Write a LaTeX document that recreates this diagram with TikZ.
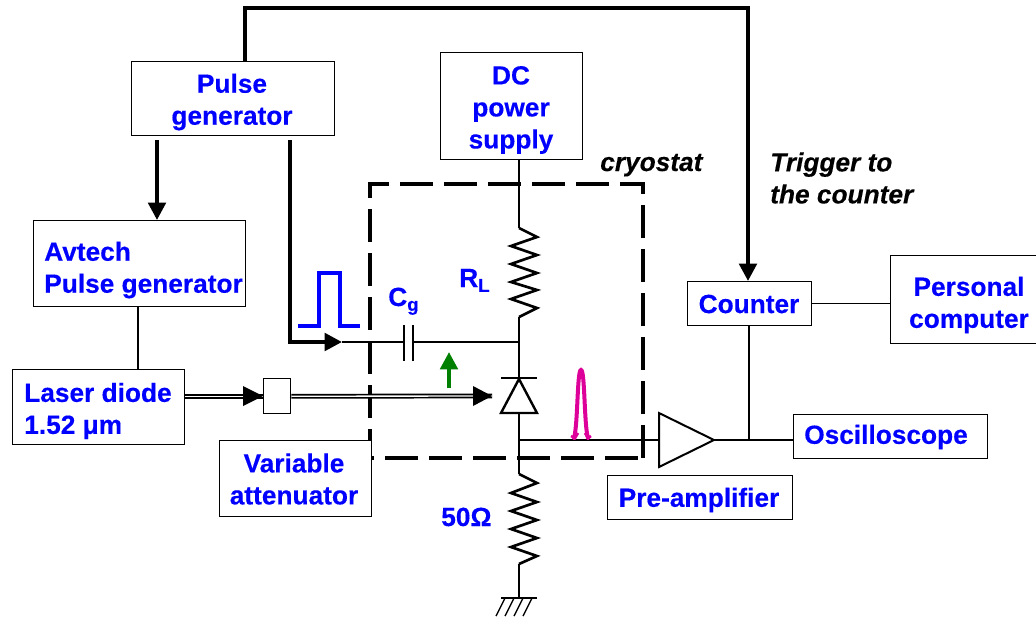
\documentclass[tikz,border=0pt]{standalone}
\usepackage{fontspec}
\setmainfont{Liberation Sans}[BoldFeatures={FakeBold=0.3},BoldItalicFeatures={FakeBold=0.3}]
\usetikzlibrary{arrows.meta}
\definecolor{lblue}{RGB}{0,0,255}
\definecolor{lgreen}{RGB}{0,128,0}
\definecolor{lmag}{RGB}{221,0,153}
\tikzset{
  wire/.style={line width=1pt,black},
  zig/.style={line width=2pt,black,line join=miter},
  thickwire/.style={line width=3pt,black,line join=miter},
  tip/.style={-{Triangle[length=13pt,width=13pt]}},
  dbl/.style={line width=1.3pt,black,double=white,double distance=1pt},
  boxn/.style={draw=black,line width=1.1pt,fill=white,inner sep=0pt,anchor=north west},
  lab/.style={text=lblue,font=\fontsize{19.7}{24}\selectfont\bfseries,inner sep=0pt,align=center},
  labl/.style={lab,align=left},
  blk/.style={text=black,font=\fontsize{19.7}{24}\selectfont\bfseries\itshape,inner sep=0pt,align=left},
}
\newcommand{\boxat}[5]{\node[boxn,minimum width=#4*0.75pt,minimum height=#5*0.75pt] (#1) at (#2,#3) {};}
\begin{document}
\begin{tikzpicture}[x=0.75pt,y=-0.75pt]
\useasboundingbox (0,0) rectangle (1036,619);
% coordinates
\coordinate (topl) at (245,8);
\coordinate (topr) at (748,8);
\coordinate (pgbend) at (290,342);
\coordinate (capin) at (342,342);
\coordinate (capl) at (404,342);
\coordinate (capr) at (413,342);
\coordinate (jc) at (519,342);
\coordinate (rlt) at (519,228);
\coordinate (rlb) at (519,317);
\coordinate (dtop) at (519,379);
\coordinate (dbot) at (519,413);
\coordinate (jo) at (519,440);
\coordinate (r2t) at (519,474);
\coordinate (r2b) at (519,564);
\coordinate (gnd) at (519,598);
\coordinate (ampin) at (659,440);
\coordinate (ampout) at (714,440);
\coordinate (jout) at (749,440);
\coordinate (ditip) at (492,396);
\coordinate (ava) at (157,140);
\coordinate (pgb) at (290,140);
% cryostat
\draw[line width=3.4pt,dash pattern=on 24.75pt off 8.25pt] (643,458) -- (643,184) -- (370,184) -- (370,458) -- cycle;
% boxes
\boxat{pg}{131}{61}{203}{74}
\boxat{dc}{440}{52}{142}{107}
\boxat{av}{33}{220}{212}{86}
\boxat{ld}{12}{369}{172}{75}
\boxat{sb}{263}{378}{27}{35}
\boxat{va}{219}{440}{152}{76}
\boxat{co}{687}{281}{124}{44}
\boxat{pc}{890}{255}{145.5}{88}
\boxat{os}{793}{414}{194}{44}
\boxat{pa}{607}{475}{185}{44}
% thick connectors
\draw[thickwire,tip] (pg.north -| topl) -- (topl) -- (topr) -- (co.north -| topr);
\draw[thickwire,tip] (ava) -- (av.north -| ava);
\draw[thickwire,tip] (pgb) -- (pgbend) -- (capin);
% thin wires
\draw[wire] (capin) -- (capl);
\draw[wire] (capr) -- (jc);
\draw[wire] (dc.south -| rlt) -- (rlt);
\draw[zig] (rlt) -- (537,237) -- (511,246) -- (537,255) -- (511,264) -- (537,273) -- (511,282) -- (537,290) -- (511,299) -- (537,308) -- (rlb);
\draw[wire] (rlb) -- (dtop);
\draw[wire] (dbot) -- (r2t);
\draw[zig] (r2t) -- (537,483) -- (511,493) -- (537,502) -- (511,511) -- (537,520) -- (511,529) -- (537,538) -- (511,547) -- (537,556) -- (r2b);
\draw[wire] (r2b) -- (gnd);
\draw[wire] (jo) -- (ampin);
\draw[wire] (ampout) -- (os.west |- ampout);
\draw[wire] (co.south -| jout) -- (jout);
\draw[wire] (co.east) -- (pc.west |- co.east);
\draw[wire] (av.south -| 138,0) -- (ld.north -| 138,0);
% capacitor
\draw[line width=1.4pt] (404,325) -- (404,361) (413,325) -- (413,361);
% diode
\draw[line width=1.8pt,fill=white,line join=miter] (dtop) -- (537,413) -- (501,413) -- cycle;
\draw[line width=2.2pt] (501,378) -- (537,378);
% ground
\draw[line width=1pt] (501,598) -- (537,598);
\draw[line width=1pt] (505,598) -- (496,616) (514,598) -- (505,616) (523,598) -- (514,616) (532,598) -- (523,616);
% fibre
\draw[dbl] (ld.east |- sb.west) -- (sb.west);
\draw[dbl] (sb.east) -- (ditip);
\path[fill=black] (263,396) -- (243,386) -- (243,406) -- cycle;
\path[fill=black] (ditip) -- (473,386) -- (473,406) -- cycle;
% amplifier
\draw[line width=1.5pt,fill=white,line join=miter] (ampin |- 0,413) -- (ampout) -- (ampin |- 0,467) -- cycle;
% green arrow
\draw[line width=3pt,lgreen,-{Triangle[length=13pt,width=13pt]}] (449,388) -- (449,352);
% blue pulse
\draw[line width=3pt,lblue,line join=miter] (298,326) -- (319,326) -- (319,273) -- (340,273) -- (340,326) -- (360,326);
% magenta pulse
\draw[line width=3pt,lmag,line cap=round] (574,438) .. controls (578,425) and (577,370) .. (581,370) .. controls (585,370) and (584,425) .. (588,438);
\draw[line width=2pt,lmag] (571,436) -- (575,438) -- (578,433) (585,433) -- (588,438) -- (591,436);
% labels
\node[lab] (tpg) at (232,102) {Pulse\\generator};
\node[lab] (tdc) at (511,110) {DC\\power\\supply};
\node[labl,anchor=west] (tav) at (44,270) {Avtech\\Pulse generator};
\node[labl,anchor=west] (tld) at (24,411) {Laser diode\\1.52 μm};
\node[lab] (tva) at (294,479) {Variable\\attenuator};
\node[lab] (tco) at (749,304) {Counter};
\node[lab] (tpc) at (969,305) {Personal\\computer};
\node[lab] (tos) at (886,437) {Oscilloscope};
\node[lab] (tpa) at (699,500) {Pre-amplifier};
\node[lab,anchor=base west] (tcg) at (388,306) {C\raisebox{-0.35ex}{\fontsize{14}{14}\selectfont g}};
\node[lab,anchor=base west] (trl) at (459,287) {R\raisebox{-0.35ex}{\fontsize{14}{14}\selectfont L}};
\node[lab,anchor=base west] (t50) at (441,526) {50Ω};
\node[blk,anchor=base west] (tcr) at (600,171) {cryostat};
\node[blk,anchor=west] (ttr) at (770,178) {Trigger to\\the counter};
\end{tikzpicture}
\end{document}
